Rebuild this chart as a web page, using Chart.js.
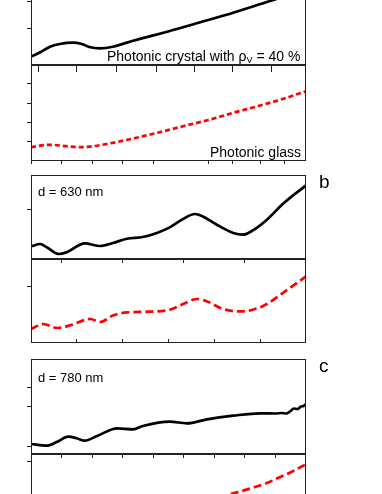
<!DOCTYPE html>
<html lang="en">
<head>
  <meta charset="UTF-8">
  <title>Reflectance spectra, panels a-c</title>
  <style>
    body { margin: 0; padding: 0; background: #fff; width: 382px; height: 494px; overflow: hidden; position: relative; font-family: "Liberation Sans", Arial, sans-serif; }
    canvas { position: absolute; left: 0; }
    .lbl { position: absolute; line-height: 1; white-space: nowrap; color: #000; }
    .lbl sub { font-size: 0.65em; vertical-align: -0.25em; line-height: 0; }
  </style>
</head>
<body>
  <canvas id="aTop" width="382" height="115" style="top:-40px"></canvas>
  <canvas id="aBot" width="382" height="116" style="top:55px"></canvas>
  <canvas id="bTop" width="382" height="104" style="top:165px"></canvas>
  <canvas id="bBot" width="382" height="104" style="top:249px"></canvas>
  <canvas id="cTop" width="382" height="115" style="top:349px"></canvas>
  <canvas id="cBot" width="382" height="116" style="top:444px"></canvas>

  <div class="lbl" style="left:107px;top:49px;font-size:14px">Photonic crystal with &rho;<sub>V</sub> = 40 %</div>
  <div class="lbl" style="left:210px;top:145px;font-size:14px">Photonic glass</div>
  <div class="lbl" style="left:38px;top:185px;font-size:13px">d = 630 nm</div>
  <div class="lbl" style="left:38px;top:371px;font-size:13px">d = 780 nm</div>
  <div class="lbl" style="left:319px;top:172px;font-size:19px">b</div>
  <div class="lbl" style="left:319px;top:356px;font-size:19px">c</div>

  <script src="https://cdn.jsdelivr.net/npm/chart.js"></script>
  <script>
    // wavelength (nm) and reflectance (a.u.)
    const aCrystalX = [400, 415, 431, 447, 469, 483, 497, 513, 534, 567, 623, 677, 731, 791, 850];
    const aCrystalY = [8.3, 12.7, 18.3, 21, 22.3, 21, 17.7, 16.7, 18.3, 24.3, 33.3, 42.7, 52.3, 64, 75];

    const aGlassX = [400, 431, 458, 480, 502, 534, 567, 607, 649, 689, 731, 775, 813, 850];
    const aGlassY = [13.8, 16.2, 14.8, 13.8, 14.8, 18.2, 22.5, 28.2, 34.8, 40.8, 48.2, 55.5, 62.2, 69.8];

    const bCrystalX = [400, 415, 426, 445, 458, 488, 513, 534, 557, 583, 606, 627, 649, 668, 681, 704, 731, 747, 763, 786, 812, 850];
    const bCrystalY = [12.6, 15, 11.6, 5, 6.6, 15.6, 13, 16, 20.3, 22, 26, 31.6, 40, 45, 42.6, 34.3, 26, 24.3, 28.6, 39.3, 55, 73.6];

    const bGlassX = [400, 420, 443, 464, 497, 513, 534, 557, 595, 627, 649, 672, 688, 714, 742, 763, 786, 812, 850];
    const bGlassY = [14, 19, 15, 17.6, 24, 21, 27.6, 30.6, 31.3, 33.3, 39, 44, 41.6, 34, 31.6, 33.3, 39, 50, 66.6];

    const cCrystalX = [400, 426, 443, 461, 475, 488, 508, 541, 567, 583, 627, 655, 688, 731, 775, 800, 810, 818, 825, 830, 836, 842, 846, 850];
    const cCrystalY = [10, 8.3, 12.3, 17.3, 15.7, 13.3, 18, 25.7, 24.7, 28, 32.3, 30.7, 34.7, 38.3, 40.7, 40.5, 41, 40.5, 43, 45.5, 45, 47.5, 48, 50];

    const cGlassX = [400, 450, 500, 550, 600, 650, 700, 721, 742, 764, 786, 808, 829, 850];
    const cGlassY = [18, 20, 23, 28, 35, 42, 50, 55, 58.5, 62.5, 67, 73, 79, 85.7];

    // tick positions
    const aTopXTicks = [412, 475, 540, 605, 668, 730, 793];
    const aTopYTicks = [37, 64];
    const aBotXTicks = [400, 450, 500, 550, 600, 690, 730, 775, 815];
    const aBotYTicks = [19.3, 38.6, 57.9, 77.2];
    const bTopXTicks = [450, 550, 650, 750];
    const bTopYTicks = [49.3];
    const bBotXTicks = [475, 550, 625, 700, 775];
    const bBotYTicks = [56.3];
    const cTopXTicks = [450, 500, 550, 600, 650, 700, 750, 800];
    const cTopYTicks = [8, 47.3, 66.7];
    const cBotYTicks = [88.3];

    const frame = {
      id: 'frame',
      afterDraw(chart) {
        const a = chart.chartArea, ctx = chart.ctx;
        ctx.save();
        ctx.strokeStyle = '#222';
        ctx.lineWidth = 1;
        const l = Math.round(a.left) + 0.5, r = Math.round(a.right) - 0.5;
        const t = Math.round(a.top) + 0.5, b = Math.round(a.bottom) - 0.5;
        ctx.strokeRect(l, t, r - l, b - t);
        ctx.restore();
      }
    };

    function pane(id, xs, ys, ymax, color, dash, xTicks, xTickLen, yTicks) {
      new Chart(document.getElementById(id), {
        type: 'line',
        data: {
          datasets: [{
            data: xs.map((x, i) => ({x: x, y: ys[i]})),
            borderColor: color, borderWidth: 2.7, borderDash: dash,
            pointRadius: 0, cubicInterpolationMode: 'monotone', fill: false
          }]
        },
        options: {
          responsive: false, animation: false, devicePixelRatio: 1,
          layout: { padding: { left: 31, right: 76, top: 10, bottom: 10 } },
          plugins: { legend: { display: false }, tooltip: { enabled: false } },
          scales: {
            x: {
              type: 'linear', min: 400, max: 850,
              afterFit: s => { s.height = 0; },
              afterBuildTicks: s => { s.ticks = xTicks.map(v => ({value: v})); },
              ticks: { display: false },
              border: { display: false },
              grid: { drawOnChartArea: false, drawTicks: true, tickLength: xTickLen, color: '#222', lineWidth: 1 }
            },
            y: {
              type: 'linear', min: 0, max: ymax,
              afterFit: s => { s.width = 0; },
              afterBuildTicks: s => { s.ticks = yTicks.map(v => ({value: v})); },
              ticks: { display: false },
              border: { display: false },
              grid: { drawOnChartArea: false, drawTicks: true, tickLength: 4, color: '#222', lineWidth: 1 }
            }
          }
        },
        plugins: [frame]
      });
    }

    pane('aTop', aCrystalX, aCrystalY, 95, '#000', [], aTopXTicks, 7, aTopYTicks);
    pane('aBot', aGlassX, aGlassY, 96, '#ff0000', [5, 3], aBotXTicks, 3, aBotYTicks);
    pane('bTop', bCrystalX, bCrystalY, 84, '#000', [], bTopXTicks, 4, bTopYTicks);
    pane('bBot', bGlassX, bGlassY, 84, '#ff0000', [8, 4], bBotXTicks, -4, bBotYTicks);
    pane('cTop', cCrystalX, cCrystalY, 95, '#000', [], cTopXTicks, 4, cTopYTicks);
    pane('cBot', cGlassX, cGlassY, 96, '#ff0000', [8, 4], [], 4, cBotYTicks);
  </script>
</body>
</html>
